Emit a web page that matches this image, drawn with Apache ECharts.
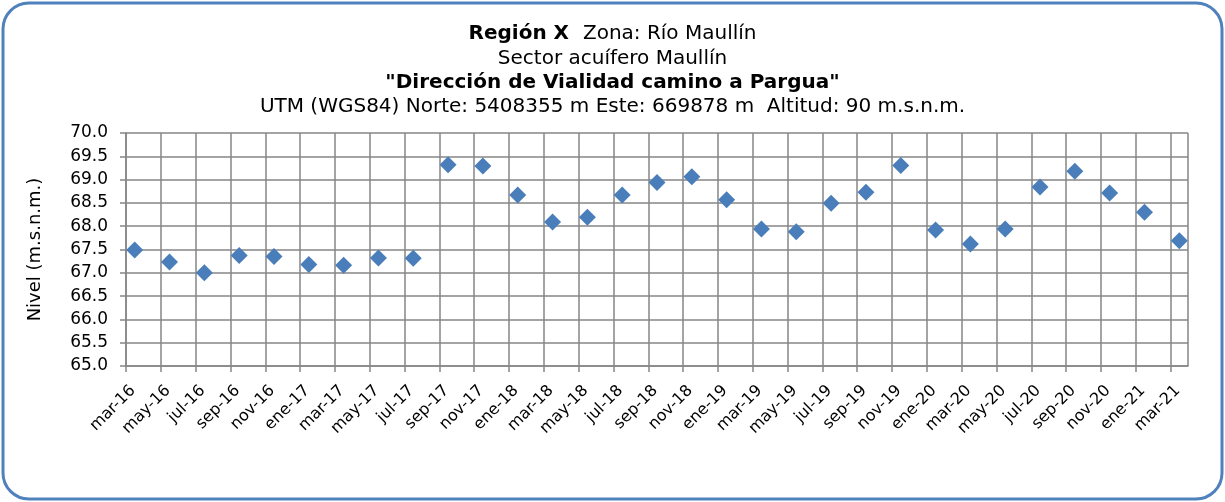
<!DOCTYPE html>
<html>
<head>
<meta charset="utf-8">
<script src="https://cdn.jsdelivr.net/npm/echarts@6/dist/echarts.min.js"></script>
<style>
  html, body { margin: 0; padding: 0; background: #ffffff; }
  #chart { width: 1225px; height: 502px; }
</style>
</head>
<body>
<div id="chart"></div>
<script>
// Tick labels: one every two months, March 2016 to March 2021
const monthLabels = [
  'mar-16', 'may-16', 'jul-16', 'sep-16', 'nov-16',
  'ene-17', 'mar-17', 'may-17', 'jul-17', 'sep-17', 'nov-17',
  'ene-18', 'mar-18', 'may-18', 'jul-18', 'sep-18', 'nov-18',
  'ene-19', 'mar-19', 'may-19', 'jul-19', 'sep-19', 'nov-19',
  'ene-20', 'mar-20', 'may-20', 'jul-20', 'sep-20', 'nov-20',
  'ene-21', 'mar-21'
];

// Water level (m.s.n.m.) measured in each labelled month
const nivel = [
  67.49, 67.23, 67.00, 67.37, 67.35,
  67.18, 67.16, 67.32, 67.31, 69.32, 69.29,
  68.67, 68.09, 68.19, 68.67, 68.94, 69.06,
  68.57, 67.94, 67.88, 68.49, 68.73, 69.30,
  67.92, 67.62, 67.94, 68.84, 69.18, 68.71,
  68.30, 67.69
];

const yTicks = { min: 65, max: 70, step: 0.5 };

// The x axis counts months from mar-16; each measurement sits mid-month.
const MONTHS_PER_LABEL = 2;
const totalMonths = (monthLabels.length - 1) * MONTHS_PER_LABEL + 1;
const points = nivel.map((v, i) => [i * MONTHS_PER_LABEL + 0.5, v]);

const FONT = 'DejaVu Sans';
const GRID_COLOR = '#868686';
const chart = echarts.init(document.getElementById('chart'), null, { renderer: 'canvas' });

chart.setOption({
  backgroundColor: '#ffffff',
  animation: false,
  textStyle: { fontFamily: FONT },
  graphic: [{
    type: 'rect',
    shape: { x: 3, y: 3, width: 1219, height: 496, r: 26 },
    style: { fill: 'none', stroke: '#4F81BD', lineWidth: 3 },
    silent: true,
    z: 100
  }],
  title: {
    left: 'center',
    top: 22,
    padding: 0,
    text: '{b|Región X}  {n|Zona: Río Maullín}\n{n|Sector acuífero Maullín}\n{b|"Dirección de Vialidad camino a Pargua"}\n{n|UTM (WGS84) Norte: 5408355 m Este: 669878 m  Altitud: 90 m.s.n.m.}',
    textStyle: {
      fontFamily: FONT,
      fontSize: 20,
      lineHeight: 24.3,
      color: '#000000',
      rich: {
        b: { fontFamily: FONT, fontSize: 20, fontWeight: 'bold', color: '#000', lineHeight: 24.3 },
        n: { fontFamily: FONT, fontSize: 20, fontWeight: 'normal', color: '#000', lineHeight: 24.3 }
      }
    }
  },
  grid: { left: 126, top: 133, right: 37, bottom: 136, containLabel: false, show: false },
  xAxis: {
    type: 'value',
    min: 0,
    max: totalMonths,
    interval: MONTHS_PER_LABEL,
    axisLine: { show: true, onZero: false, lineStyle: { color: GRID_COLOR, width: 1.5 } },
    axisTick: { show: true, length: 6, lineStyle: { color: GRID_COLOR, width: 1.5 } },
    splitLine: { show: true, lineStyle: { color: GRID_COLOR, width: 1.5 } },
    axisLabel: {
      rotate: 45,
      margin: 15,
      verticalAlign: 'top',
      lineHeight: 20,
      fontFamily: FONT,
      fontSize: 16,
      color: '#000',
      showMinLabel: true,
      showMaxLabel: false,
      hideOverlap: false,
      formatter: (val) => {
        const i = val / MONTHS_PER_LABEL;
        return Number.isInteger(i) && monthLabels[i] ? monthLabels[i] : '';
      }
    }
  },
  yAxis: {
    type: 'value',
    min: yTicks.min,
    max: yTicks.max,
    interval: yTicks.step,
    name: 'Nivel (m.s.n.m.)',
    nameLocation: 'middle',
    nameGap: 82,
    nameRotate: 90,
    nameTextStyle: { fontFamily: FONT, fontSize: 18, color: '#000' },
    axisLine: { show: true, lineStyle: { color: GRID_COLOR, width: 1.5 } },
    axisTick: { show: true, length: 6, lineStyle: { color: GRID_COLOR, width: 1.5 } },
    splitLine: { show: true, lineStyle: { color: GRID_COLOR, width: 1.5 } },
    axisLabel: {
      fontFamily: FONT,
      fontSize: 17,
      color: '#000',
      margin: 18,
      formatter: (v) => v.toFixed(1)
    }
  },
  series: [{
    type: 'scatter',
    data: points,
    symbol: 'diamond',
    symbolSize: [17, 17],
    itemStyle: { color: '#4A7EBB', opacity: 1 },
    clip: false
  }]
});
</script>
</body>
</html>
